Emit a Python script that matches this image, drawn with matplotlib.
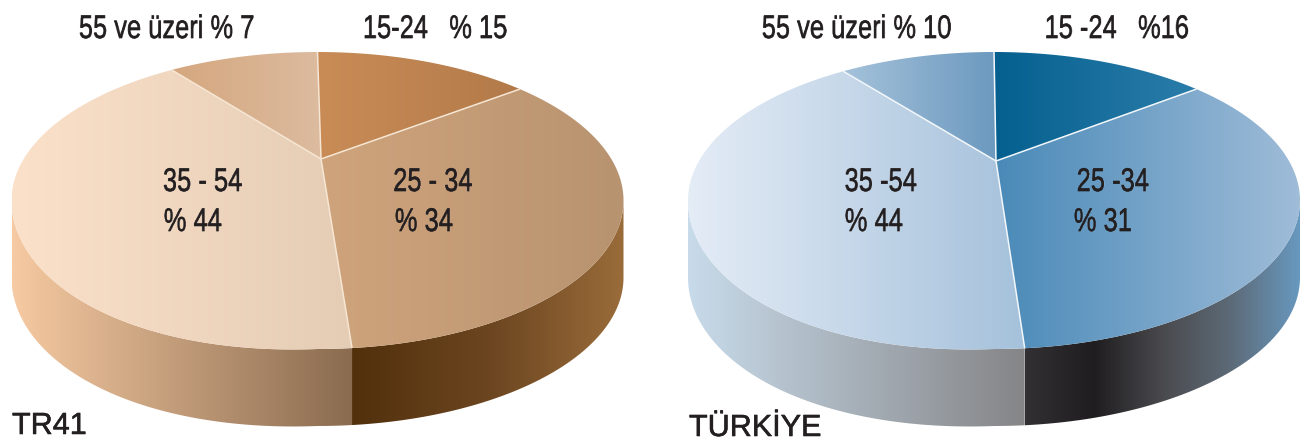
import numpy as np
import matplotlib
matplotlib.use("Agg")
import matplotlib.pyplot as plt
import matplotlib.patheffects as pe
from matplotlib.colors import LinearSegmentedColormap
from matplotlib.patches import Polygon

# Age groups and the percentages printed on the chart
tr41_labels = ["15-24   % 15", "25 - 34\n% 34", "35 - 54\n% 44", "55 ve üzeri % 7"]
turkiye_labels = ["15 -24   %16", "25 -34\n% 31", "35 -54\n% 44", "55 ve üzeri % 10"]
tr41_printed = [15, 34, 44, 7]
turkiye_printed = [16, 31, 44, 10]

# The artwork's slices are not drawn to the printed figures, so the share of
# the rim each slice occupies is read off the picture separately.
tr41_rim_share = [11.5, 36.7, 43.9, 7.9]
turkiye_rim_share = [11.5, 36.9, 43.4, 8.2]

tr41_top = [("#c98c57", "#b27a49"), ("#cfa47c", "#b89370"), ("#fbe1ca", "#e5ccb5"), ("#d5a77e", "#dcbb9f")]
turkiye_top = [("#05608f", "#2b7daa"), ("#4a8ab8", "#9fbcd8"), ("#e4ecf6", "#a5c1db"), ("#a5c2da", "#6c99bf")]
tr41_side = [["#f6caa2", "#8a6b4f"], ["#52300c", "#6b4520", "#9a6c3a"]]
turkiye_side = [["#c8dbea", "#858587"], ["#333033", "#1f1d1f", "#4a4a4e", "#5d6b78", "#6899c0"]]
tr41_line, turkiye_line = "#f6e6d4", "#f2f7fb"

RX, RY, CY, DEPTH, BULGE = 306, 148.5, 200.5, 77, 6
CONDENSE = 0.78
TEXT = "#231f20"
FONT = "Liberation Sans"

fig = plt.figure(figsize=(13.04, 4.45), dpi=100)
ax = fig.add_axes([0, 0, 1, 1])


def rim(cx, a, dy=0.0):
    """Point on the top outline; a in radians clockwise from the top."""
    a = np.asarray(a, dtype=float)
    phi = a - np.pi
    lower_left = (phi > 0) & (phi < np.pi / 2)
    bulge = np.where(lower_left, BULGE * np.sin(2 * phi), 0.0)
    return cx + RX * np.sin(a), CY - RY * np.cos(a) + dy + bulge


def gradient(poly_xy, colors, x0, x1):
    cmap = LinearSegmentedColormap.from_list("g", colors)
    img = ax.imshow(np.linspace(0, 1, 256)[None, :], cmap=cmap, aspect="auto",
                    extent=[x0, x1, 445, 0], zorder=2, interpolation="bilinear")
    patch = Polygon(poly_xy, closed=True, facecolor="none", edgecolor="none", zorder=2)
    ax.add_patch(patch)
    img.set_clip_path(patch)


def draw_pie(cx, apex, shares, tops, sides, line):
    bounds = np.cumsum([0] + list(shares)) / sum(shares) * 2 * np.pi

    # Side wall: right part, then left part, split where the big slice starts.
    split = bounds[2]
    a = np.linspace(np.pi / 2, split, 120)
    x, y = rim(cx, a)
    xb, yb = rim(cx, a, DEPTH)
    gradient(np.c_[np.r_[x, xb[::-1]], np.r_[y, yb[::-1]]], sides[1], x.min(), x.max())
    a = np.linspace(split, 1.5 * np.pi, 120)
    x, y = rim(cx, a)
    xb, yb = rim(cx, a, DEPTH)
    gradient(np.c_[np.r_[x, xb[::-1]], np.r_[y, yb[::-1]]], sides[0], x.min(), x.max())

    # Top surface
    for i, (c0, c1) in enumerate(tops):
        a = np.linspace(bounds[i], bounds[i + 1], 200)
        x, y = rim(cx, a)
        xs = np.r_[apex[0], x]
        ys = np.r_[apex[1], y]
        gradient(np.c_[xs, ys], [c0, c1], xs.min(), xs.max())
    for b in bounds[:-1]:
        x, y = rim(cx, b)
        ax.plot([apex[0], x], [apex[1], y], color=line, lw=1.1, zorder=3,
                solid_capstyle="butt")


draw_pie(317.5, (321, 159), tr41_rim_share, tr41_top, tr41_side, tr41_line)
draw_pie(994, (996, 161), turkiye_rim_share, turkiye_top, turkiye_side, turkiye_line)


def condense(img, dpi):
    """Squeeze a rendered text horizontally about its middle (narrow typeface)."""
    h, w = img.shape[:2]
    nw = max(1, int(round(w * CONDENSE)))
    src = (np.arange(nw) + 0.5) / CONDENSE - 0.5
    out = np.empty((h, nw, img.shape[2]), dtype=img.dtype)
    grid = np.arange(w)
    for r in range(h):
        for c in range(img.shape[2]):
            out[r, :, c] = np.interp(src, grid, img[r, :, c])
    return out, (w - nw) // 2, 0


def label(x, y, s, size=23.5):
    t = ax.text(x, y + 2.5, s, fontsize=size, color=TEXT, ha="center", va="center",
                family=FONT, zorder=5)
    t.set_path_effects([pe.withStroke(linewidth=0.5, foreground=TEXT)])
    t.set_agg_filter(condense)


def inner(x1, x2, s):
    top, bottom = s.split("\n")
    label(x1, 180, top)
    label(x2, 220, bottom)


label(435.5, 27, tr41_labels[0])
label(167.5, 27, tr41_labels[3])
inner(433, 424, tr41_labels[1])
inner(203, 193, tr41_labels[2])
label(1117, 27, turkiye_labels[0])
label(857.5, 27, turkiye_labels[3])
inner(1113, 1103, turkiye_labels[1])
inner(881, 874, turkiye_labels[2])

for x, y, s in [(12, 426, "TR41"), (689, 428, "TÜRKİYE")]:
    t = ax.text(x, y, s, fontsize=22, color=TEXT, ha="left", va="center",
                family=FONT, zorder=5)
    t.set_path_effects([pe.withStroke(linewidth=0.4, foreground=TEXT)])

ax.set_xlim(0, 1304)
ax.set_ylim(445, 0)
ax.axis("off")
fig.savefig("out.png", dpi=100, facecolor="white")
